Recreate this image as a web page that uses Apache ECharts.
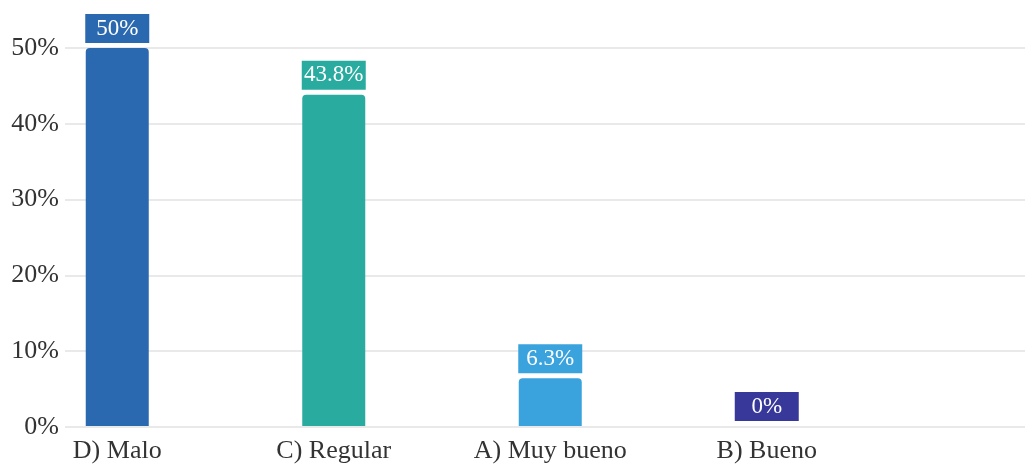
<!DOCTYPE html>
<html>
<head>
<meta charset="utf-8">
<script src="https://cdn.jsdelivr.net/npm/echarts@6/dist/echarts.min.js"></script>
<style>
html,body{margin:0;padding:0;background:#fff;}
#chart{width:1025px;height:464px;}
</style>
</head>
<body>
<div id="chart"></div>
<script>
var categories = ['D) Malo', 'C) Regular', 'A) Muy bueno', 'B) Bueno'];
var values = [50, 43.8, 6.3, 0];
var barColors = ['#2a69b0', '#2aab9f', '#3aa2dd', '#38389a'];
var yTicks = [0, 10, 20, 30, 40, 50];

var serif = '"Liberation Serif", "DejaVu Serif", serif';
var chart = echarts.init(document.getElementById('chart'));
chart.setOption({
  backgroundColor: '#ffffff',
  animation: false,
  grid: [
    { left: 65, right: 0, top: 48, bottom: 37 },
    { left: 9, width: 866, top: 48, bottom: 37 }
  ],
  xAxis: [
    { gridIndex: 0, type: 'category', data: categories, show: false },
    {
      gridIndex: 1, type: 'category', data: categories,
      axisLine: { show: false }, axisTick: { show: false },
      axisLabel: { color: '#333', fontFamily: serif, fontSize: 26, margin: 12 }
    }
  ],
  yAxis: [
    {
      gridIndex: 0, type: 'value', min: yTicks[0], max: yTicks[yTicks.length - 1], interval: 10,
      axisLine: { show: false }, axisTick: { show: false },
      axisLabel: { color: '#333', fontFamily: serif, fontSize: 26, margin: 6, formatter: '{value}%' },
      splitLine: { lineStyle: { color: '#e2e2e2', width: 1.5 } }
    },
    {
      gridIndex: 1, type: 'value', min: yTicks[0], max: yTicks[yTicks.length - 1], interval: 10,
      show: false, splitLine: { show: false }
    }
  ],
  series: [{
    type: 'bar',
    xAxisIndex: 1,
    yAxisIndex: 1,
    barWidth: 63,
    data: values.map(function (v, i) {
      return {
        value: v,
        itemStyle: { color: barColors[i], borderRadius: [4, 4, 0, 0] },
        label: { backgroundColor: barColors[i] }
      };
    }),
    label: {
      show: true,
      position: 'top',
      distance: 5,
      formatter: '{c}%',
      color: '#ffffff',
      fontFamily: serif,
      fontSize: 23,
      lineHeight: 25,
      align: 'center',
      padding: [2, 4, 2, 4],
      width: 56,
      overflow: 'none'
    }
  }]
});
</script>
</body>
</html>
